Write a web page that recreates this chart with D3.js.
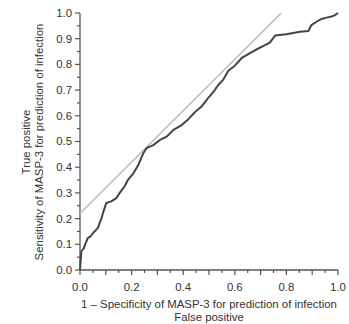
<!DOCTYPE html>
<html>
<head>
<meta charset="utf-8">
<script src="https://cdn.jsdelivr.net/npm/d3@7"></script>
<style>
  body { margin: 0; background: #fff; }
  svg { display: block; font-family: "Liberation Sans", Arial, sans-serif; }
</style>
</head>
<body>
<svg id="chart" width="349" height="324"></svg>
<script>
// ROC curve points (1 - specificity, sensitivity)
const fpr = [0, 0.003, 0.005, 0.015, 0.02, 0.03, 0.04, 0.05, 0.063, 0.07, 0.076, 0.083, 0.089, 0.095, 0.102,
  0.121, 0.141, 0.154, 0.165, 0.173, 0.186, 0.207, 0.226, 0.235, 0.245, 0.258, 0.284, 0.31, 0.336, 0.362,
  0.394, 0.42, 0.446, 0.47, 0.497, 0.515, 0.536, 0.556, 0.575, 0.6, 0.627, 0.652, 0.678, 0.717, 0.736,
  0.756, 0.80, 0.853, 0.885, 0.897, 0.915, 0.936, 0.956, 0.975, 0.988, 1.0];
const tpr = [0, 0.04, 0.072, 0.085, 0.10, 0.124, 0.13, 0.143, 0.157, 0.165, 0.183, 0.20, 0.222, 0.24, 0.261,
  0.267, 0.280, 0.300, 0.315, 0.326, 0.351, 0.376, 0.409, 0.43, 0.454, 0.474, 0.486, 0.506, 0.519, 0.545,
  0.564, 0.587, 0.615, 0.635, 0.67, 0.69, 0.72, 0.742, 0.775, 0.795, 0.825, 0.840, 0.855, 0.875, 0.885,
  0.912, 0.917, 0.927, 0.930, 0.953, 0.965, 0.977, 0.982, 0.986, 0.992, 1.0];
// Reference (gray) line endpoints
const refX = [0, 0.78];
const refY = [0.22, 1.0];
// Tick values
const xTickLabels = [0, 0.2, 0.4, 0.6, 0.8, 1.0];
const yTickLabels = [0, 0.1, 0.2, 0.3, 0.4, 0.5, 0.6, 0.7, 0.8, 0.9, 1.0];
const xTitle = ["1 \u2013 Specificity of MASP-3 for prediction of infection", "False positive"];
const yTitle = ["True positive", "Sensitivity of MASP-3 for prediction of infection"];

const svg = d3.select("#chart");
const x = d3.scaleLinear().domain([0, 1]).range([80, 338]);
const y = d3.scaleLinear().domain([0, 1]).range([270, 13]);
const axisColor = "#555";
const textColor = "#333";
const fs = 11.4;

// minor ticks
const minor = d3.range(0, 1.0001, 0.05);
// x axis
const gx = svg.append("g").attr("transform", "translate(0,270)");
gx.append("line").attr("x1", x(0)).attr("x2", x(1)).attr("stroke", axisColor).attr("stroke-width", 1.3);
gx.selectAll("line.t").data(minor).enter().append("line").attr("class", "t")
  .attr("x1", d => x(d)).attr("x2", d => x(d))
  .attr("y1", 0).attr("y2", (d, i) => i % 2 === 0 ? 5 : 3)
  .attr("stroke", axisColor).attr("stroke-width", 1.2);
gx.selectAll("text").data(xTickLabels).enter().append("text")
  .attr("x", d => x(d)).attr("y", 21).attr("text-anchor", "middle")
  .attr("font-size", fs).attr("fill", textColor).text(d => d3.format(".1f")(d));

// y axis
const gy = svg.append("g").attr("transform", "translate(80,0)");
gy.append("line").attr("y1", y(0)).attr("y2", y(1)).attr("stroke", axisColor).attr("stroke-width", 1.3);
gy.selectAll("line.t").data(minor).enter().append("line").attr("class", "t")
  .attr("y1", d => y(d)).attr("y2", d => y(d))
  .attr("x1", 0).attr("x2", (d, i) => i % 2 === 0 ? -5 : -3)
  .attr("stroke", axisColor).attr("stroke-width", 1.2);
gy.selectAll("text").data(yTickLabels).enter().append("text")
  .attr("x", -8).attr("y", d => y(d)).attr("dy", "0.35em").attr("text-anchor", "end")
  .attr("font-size", fs).attr("fill", textColor).text(d => d3.format(".1f")(d));

// reference line
svg.append("line")
  .attr("x1", x(refX[0])).attr("y1", y(refY[0]))
  .attr("x2", x(refX[1])).attr("y2", y(refY[1]))
  .attr("stroke", "#bbb").attr("stroke-width", 1.5);

// ROC curve
const pts = fpr.map((d, i) => [d, tpr[i]]);
svg.append("path").datum(pts)
  .attr("d", d3.line().x(d => x(d[0])).y(d => y(d[1])))
  .attr("fill", "none").attr("stroke", "#444").attr("stroke-width", 2).attr("stroke-linejoin", "round");

// axis titles
const cx = (x(0) + x(1)) / 2;
svg.append("text").attr("x", cx).attr("y", 307.5).attr("text-anchor", "middle")
  .attr("font-size", fs).attr("fill", textColor).text(xTitle[0]);
svg.append("text").attr("x", cx).attr("y", 321).attr("text-anchor", "middle")
  .attr("font-size", fs).attr("fill", textColor).text(xTitle[1]);
const cy = 142;
svg.append("text").attr("transform", `translate(29.5,${cy}) rotate(-90)`).attr("text-anchor", "middle")
  .attr("font-size", fs).attr("fill", textColor).text(yTitle[0]);
svg.append("text").attr("transform", `translate(42.5,${cy}) rotate(-90)`).attr("text-anchor", "middle")
  .attr("font-size", fs).attr("fill", textColor).text(yTitle[1]);
</script>
</body>
</html>
